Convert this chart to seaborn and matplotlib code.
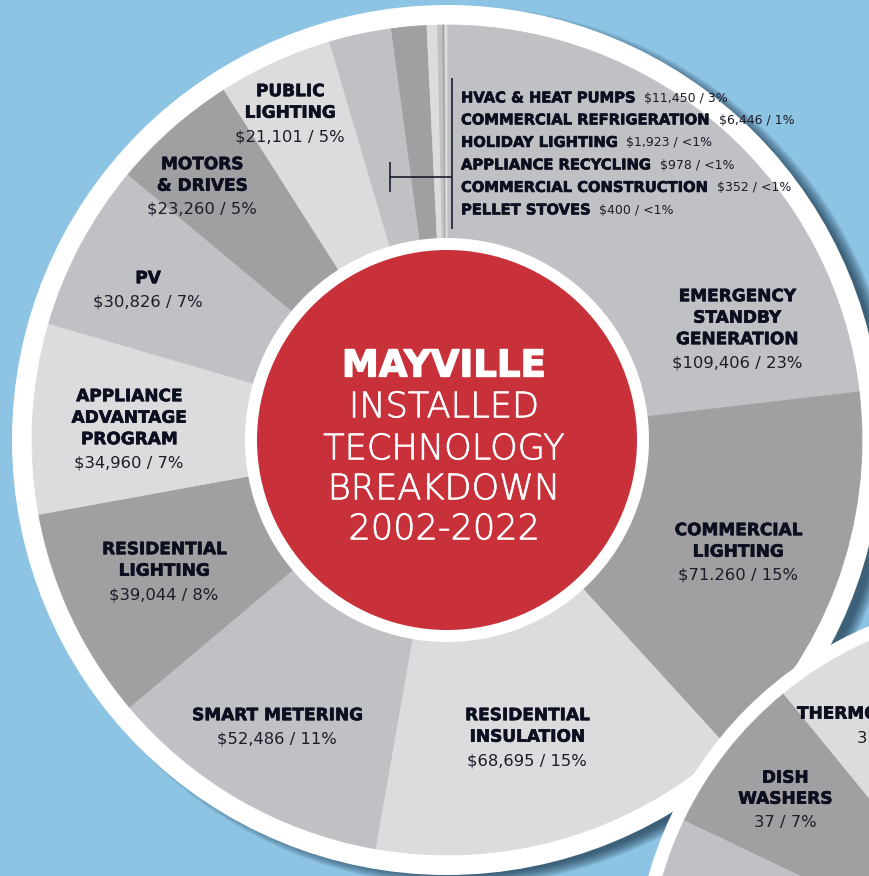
import matplotlib
matplotlib.use("Agg")
import matplotlib.pyplot as plt
from matplotlib.patches import Circle
import matplotlib.patheffects as pe
import seaborn as sns

# ------------------------------------------------------------------ data
main_names = ["EMERGENCY\nSTANDBY\nGENERATION", "COMMERCIAL\nLIGHTING", "RESIDENTIAL\nINSULATION",
              "SMART METERING", "RESIDENTIAL\nLIGHTING", "APPLIANCE\nADVANTAGE\nPROGRAM", "PV",
              "MOTORS\n& DRIVES", "PUBLIC\nLIGHTING"]
main_values = [109406, 71260, 68695, 52486, 39044, 34960, 30826, 23260, 21101]
main_value_labels = ["$109,406 / 23%", "$71.260 / 15%", "$68,695 / 15%", "$52,486 / 11%",
                     "$39,044 / 8%", "$34,960 / 7%", "$30,826 / 7%", "$23,260 / 5%", "$21,101 / 5%"]

small_names = ["HVAC & HEAT PUMPS", "COMMERCIAL REFRIGERATION", "HOLIDAY LIGHTING",
               "APPLIANCE RECYCLING", "COMMERCIAL CONSTRUCTION", "PELLET STOVES"]
small_values = [11450, 6446, 1923, 978, 352, 400]
small_value_labels = ["$11,450 / 3%", "$6,446 / 1%", "$1,923 / <1%", "$978 / <1%",
                      "$352 / <1%", "$400 / <1%"]

second_names = ["DISH\nWASHERS", "THERMOSTATS", "", ""]
second_values = [37, 37, 394, 60]
second_value_labels = ["37 / 7%", "37 / 7%", "", ""]

title_lines = ["MAYVILLE", "INSTALLED", "TECHNOLOGY", "BREAKDOWN", "2002-2022"]

# ------------------------------------------------------------------ layout / style
W, H = 869, 876
BLUE = "#8dc4e4"
RED = "#c8313a"
NAVY = "#0b0f1f"
VALC = "#1b1c27"

MAIN_C = (447, 440); MAIN_R = 415; MAIN_RING = 435
HOLE_WHITE = 202; HOLE_RED = 190
SEC_C = (1018, 980); SEC_R = 370; SEC_RING = 384

main_label_pos = [(737, 295), (738, 529), (527, 714), (277, 714), (164, 548),
                  (129, 395), (148, 277), (202, 163), (290, 90)]
LINE_STEP = 21.5
VALUE_GAP = 23.5
small_x = 461
small_y = [97, 119, 141.5, 164, 186.5, 209]

sns.set_theme(style="white")
plt.rcParams["font.family"] = ["DejaVu Sans"]

pal = sns.color_palette(["#bfc1c5", "#a0a0a2", "#dcdcde"])
main_colors = [pal[i % 3] for i in range(len(main_values) + len(small_values))]
second_colors = [pal[1], pal[2], pal[0], pal[0]]

fig = plt.figure(figsize=(W / 100, H / 100), dpi=100, facecolor=BLUE)
ax = fig.add_axes([0, 0, 1, 1])
ax.set_facecolor(BLUE)

# soft drop shadow of main disc (cast to the right / slightly down)
for k in range(12):
    ax.add_patch(Circle((MAIN_C[0] + 12, MAIN_C[1] + 6), MAIN_RING - 6 + k * 1.0,
                        facecolor="#0b2236", edgecolor="none", alpha=0.07, zorder=1))
ax.add_patch(Circle(MAIN_C, MAIN_RING, facecolor="white", edgecolor="none", zorder=2))

all_values = main_values + small_values
wedges, _ = ax.pie(all_values, colors=main_colors, startangle=-90, counterclock=True,
                   center=MAIN_C, radius=MAIN_R, frame=True,
                   wedgeprops=dict(linewidth=0.6, zorder=3))
for w in wedges:
    w.set_edgecolor(w.get_facecolor())

ax.add_patch(Circle(MAIN_C, HOLE_WHITE, facecolor="white", edgecolor="none", zorder=4))
ax.add_patch(Circle(MAIN_C, HOLE_RED, facecolor=RED, edgecolor="none", zorder=5))

# title in the hole
ax.text(444, 363 + 13.5, title_lines[0], ha="center", va="baseline", fontsize=26.7,
        fontweight="bold", color="white", zorder=6,
        path_effects=[pe.withStroke(linewidth=1.0, foreground="white")])
for i, (t, yc) in enumerate(zip(title_lines[1:], [404.5, 446.5, 486.5, 526.5])):
    ax.text(444, yc + 12.8, t, ha="center", va="baseline", fontsize=25.3,
            fontweight="light", color="white", zorder=6,
            path_effects=[pe.withStroke(linewidth=0.5, foreground="white")])

name_fx = [pe.withStroke(linewidth=0.45, foreground=NAVY)]

# main labels
for name, vlab, (x, y0) in zip(main_names, main_value_labels, main_label_pos):
    lines = name.split("\n")
    for i, ln in enumerate(lines):
        ax.text(x, y0 + i * LINE_STEP + 6.2, ln, ha="center", va="baseline", fontsize=12.2,
                fontweight="bold", color=NAVY, zorder=10, path_effects=name_fx)
    yv = y0 + (len(lines) - 1) * LINE_STEP + VALUE_GAP
    ax.text(x, yv + 6.0, vlab, ha="center", va="baseline", fontsize=11.8,
            color=VALC, zorder=10)

# small slices legend
name_texts = []
for name, y in zip(small_names, small_y):
    t = ax.text(small_x, y + 5.4, name, ha="left", va="baseline", fontsize=10.6,
                fontweight="bold", color=NAVY, zorder=10, path_effects=name_fx)
    name_texts.append(t)
fig.canvas.draw()
renderer = fig.canvas.get_renderer()
for t, vlab, y in zip(name_texts, small_value_labels, small_y):
    bb = t.get_window_extent(renderer)
    ax.text(small_x + bb.width + 8, y + 4.6, vlab, ha="left", va="baseline",
            fontsize=9.0, color=VALC, zorder=10)

# bracket
ax.plot([452, 452], [78, 229], color=NAVY, lw=1.1, zorder=10, solid_capstyle="butt")
ax.plot([389.5, 452], [177, 177], color=NAVY, lw=1.1, zorder=10, solid_capstyle="butt")
ax.plot([389.5, 389.5], [162, 192], color=NAVY, lw=1.1, zorder=10, solid_capstyle="butt")

# second disc (partially visible)
ax.add_patch(Circle(SEC_C, SEC_RING, facecolor="white", edgecolor="none", zorder=12))
wedges2, _ = ax.pie(second_values, colors=second_colors, startangle=-154.5, counterclock=True,
                    center=SEC_C, radius=SEC_R, frame=True,
                    wedgeprops=dict(linewidth=0.6, zorder=13))
for w in wedges2:
    w.set_edgecolor(w.get_facecolor())

for i, ln in enumerate(second_names[0].split("\n")):
    ax.text(785, 776.5 + i * 21 + 6.2, ln, ha="center", va="baseline", fontsize=12.2,
            fontweight="bold", color=NAVY, zorder=14, path_effects=name_fx)
ax.text(785, 821.5 + 6.0, second_value_labels[0], ha="center", va="baseline",
        fontsize=11.8, color=VALC, zorder=14)
ax.text(797, 712.5 + 6.2, second_names[1], ha="left", va="baseline", fontsize=12.2,
        fontweight="bold", color=NAVY, zorder=14, path_effects=name_fx)
ax.text(857, 736.5 + 6.0, second_value_labels[1], ha="left", va="baseline",
        fontsize=11.8, color=VALC, zorder=14)

ax.set_xlim(0, W)
ax.set_ylim(H, 0)
ax.set_aspect("auto")
ax.set_axis_off()

fig.savefig("out.png", dpi=100, facecolor=BLUE)
